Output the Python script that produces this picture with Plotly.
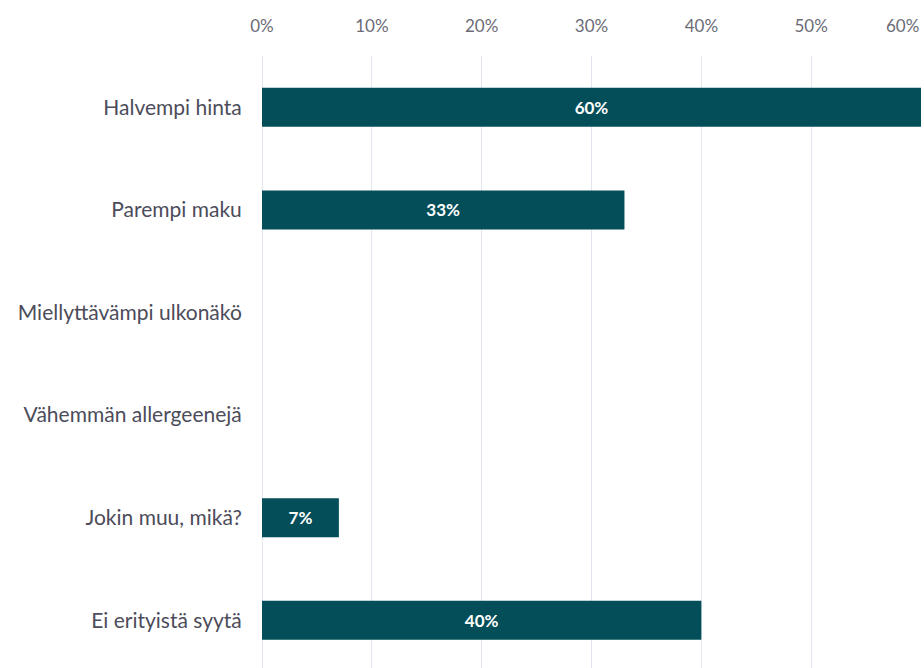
import plotly.graph_objects as go

categories = [
    "Halvempi hinta",
    "Parempi maku",
    "Miellyttävämpi ulkonäkö",
    "Vähemmän allergeenejä",
    "Jokin muu, mikä?",
    "Ei erityistä syytä",
]
values = [60, 33, 0, 0, 7, 40]
tick_values = [0, 10, 20, 30, 40, 50, 60]
tick_labels = ["0%", "10%", "20%", "30%", "40%", "50%", "60%"]

bar_color = "#034e58"
grid_color = "#e3e6ee"
font_family = "Lato, 'Open Sans', sans-serif"
tick_color = "#6b6b76"

bar_text = [f"{v}%" if v > 0 else "" for v in values]

fig = go.Figure(
    go.Bar(
        y=categories,
        x=values,
        orientation="h",
        width=0.38,
        marker=dict(color=bar_color, line=dict(width=0)),
        text=bar_text,
        textposition="inside",
        insidetextanchor="middle",
        textangle=0,
        textfont=dict(family=font_family, size=17, color="white", weight="bold"),
        hoverinfo="skip",
    )
)

# last tick label is pulled inside the plot edge, drawn as an annotation
axis_labels = tick_labels[:-1] + [""]

fig.update_layout(
    width=924,
    height=668,
    margin=dict(l=262, r=3, t=56, b=0),
    paper_bgcolor="white",
    plot_bgcolor="white",
    showlegend=False,
    font=dict(family=font_family),
    xaxis=dict(
        side="top",
        range=[0, 60],
        tickvals=tick_values,
        ticktext=axis_labels,
        ticks="outside",
        ticklen=16,
        tickcolor="rgba(0,0,0,0)",
        tickfont=dict(size=17, color=tick_color, family=font_family),
        showgrid=True,
        gridcolor=grid_color,
        gridwidth=1,
        zeroline=True,
        zerolinecolor=grid_color,
        zerolinewidth=1,
        showline=False,
        fixedrange=True,
    ),
    yaxis=dict(
        type="category",
        categoryorder="array",
        categoryarray=categories,
        range=[5.465, -0.5],
        ticks="outside",
        ticklen=15,
        tickcolor="rgba(0,0,0,0)",
        tickfont=dict(size=21, color="#4c4c5a", family=font_family),
        showgrid=False,
        zeroline=False,
        showline=False,
        fixedrange=True,
    ),
    annotations=[
        dict(
            x=tick_values[-1],
            xref="x",
            y=1,
            yref="paper",
            yshift=31,
            text=tick_labels[-1],
            showarrow=False,
            xanchor="right",
            yanchor="middle",
            font=dict(size=17, color=tick_color, family=font_family),
        )
    ],
)

fig.write_html("out.html")
